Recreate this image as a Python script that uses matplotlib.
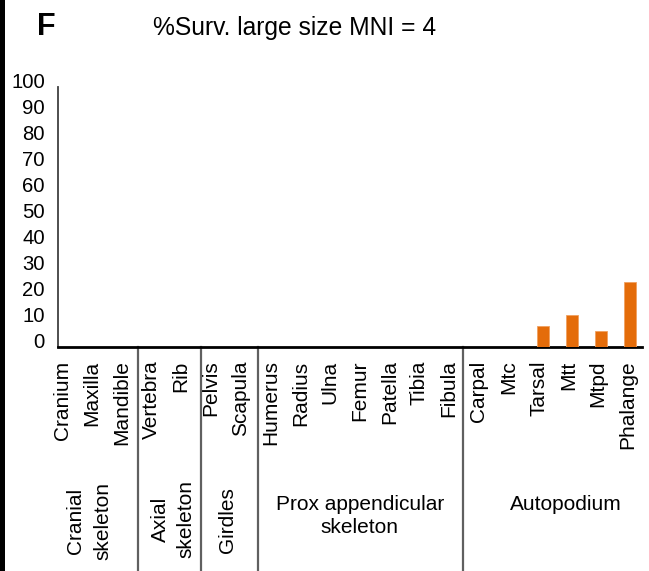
import numpy as np
import matplotlib
matplotlib.use("Agg")
import matplotlib.pyplot as plt
from matplotlib.transforms import blended_transform_factory, ScaledTranslation
from matplotlib.patches import Rectangle

plt.rcParams['font.family'] = ['Liberation Sans', 'DejaVu Sans']

categories = ["Cranium", "Maxilla", "Mandible", "Vertebra", "Rib", "Pelvis", "Scapula",
              "Humerus", "Radius", "Ulna", "Femur", "Patella", "Tibia", "Fibula",
              "Carpal", "Mtc", "Tarsal", "Mtt", "Mtpd", "Phalange"]
values = [0, 0, 0, 0, 0, 0, 0,
          0, 0, 0, 0, 0, 0, 0,
          0, 0, 8.33, 12.5, 6.25, 25.0]
groups = ["Cranial\nskeleton", "Axial\nskeleton", "Girdles", "Prox appendicular\nskeleton", "Autopodium"]
group_sizes = [3, 2, 2, 7, 6]
yticks = list(range(0, 101, 10))
title = "%Surv. large size MNI = 4"
panel = "F"

W, H = 649, 571
fig = plt.figure(figsize=(W / 100, H / 100), dpi=100)

# left black bar
fig.patches.append(Rectangle((0, 0), 5 / W, 1, transform=fig.transFigure,
                             facecolor="black", edgecolor="none"))

ax_left, ax_right = 58, 642
ax_top, ax_bot = 87, 347.3
ax = fig.add_axes([ax_left / W, (H - ax_bot) / H, (ax_right - ax_left) / W, (ax_bot - ax_top) / H])

x = np.arange(len(categories))
ax.bar(x, values, width=0.41, color="#E46C0A", edgecolor="#F0A060", linewidth=0.6, zorder=3)

ax.set_xlim(-0.6, 19.4)
ax.set_ylim(0, 100)

for s in ["top", "right"]:
    ax.spines[s].set_visible(False)
ax.spines["left"].set_color("#404040")
ax.spines["left"].set_linewidth(1.3)
ax.spines["bottom"].set_color("#000000")
ax.spines["bottom"].set_linewidth(2.0)

ax.set_yticks(yticks)
ax.set_yticklabels([str(v) for v in yticks], fontsize=14.6)
ax.tick_params(axis="y", length=0, pad=9.5)
for lab in ax.get_yticklabels():
    lab.set_transform(lab.get_transform() + ScaledTranslation(0, 6.5 / 100, fig.dpi_scale_trans))

# category labels (rotated)
label_pos = x * 1.020 - 0.463
ax.set_xticks(label_pos)
ax.set_xticklabels(categories, rotation=90, fontsize=15, va="top", ha="center")
ax.tick_params(axis="x", length=0, pad=9.5)

# group separators
trans = blended_transform_factory(ax.transData, fig.transFigure)
bounds = np.cumsum(group_sizes)[:-1] - 0.5
sep_shift = [-0.36, -0.2, -0.25, -0.23]
for b, sh in zip(bounds, sep_shift):
    xb = b + sh
    ax.plot([xb, xb], [(H - ax_bot) / H, 0], transform=trans, color="#606060",
            linewidth=1.6, clip_on=False)

# group labels
group_x = [0.48, 3.35, 5.19, 9.74, 16.8]
group_rot = [90, 90, 90, 0, 0]
group_y = [521, 519, 520, 516, 505]
group_ls = [1.55, 1.4, 1.3, 1.3, 1.3]
for g, gx, gr, gy, ls in zip(groups, group_x, group_rot, group_y, group_ls):
    ax.text(gx, (H - gy) / H, g, transform=trans, rotation=gr, fontsize=15,
            ha="center", va="center", multialignment="center", linespacing=ls)

fig.text(37 / W, (H - 27) / H, panel, fontsize=22, fontweight="bold", ha="left", va="center")
fig.text(294.5 / W, (H - 28) / H, title, fontsize=17.7, ha="center", va="center")

fig.savefig("out.png", dpi=100)
